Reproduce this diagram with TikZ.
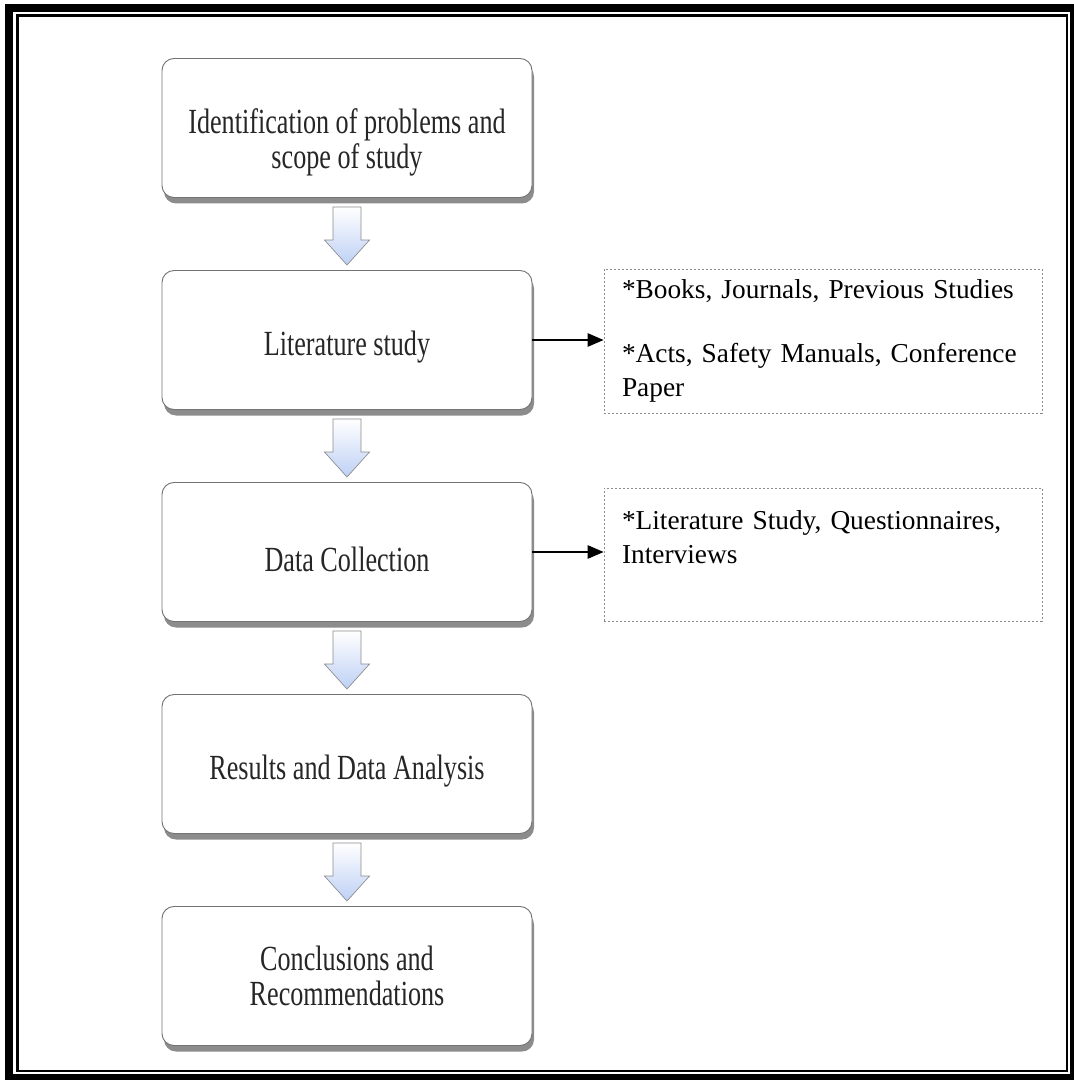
\documentclass[tikz,border=0pt]{standalone}
\usepackage{fontspec}
\setmainfont{Liberation Serif}
\newfontfamily\stepfont[FakeStretch=0.74]{Liberation Serif}
\usetikzlibrary{arrows.meta,calc,shadows}
\definecolor{arrowblue}{RGB}{190,208,245}

% Block arrow between two step boxes
\newcommand{\flowarrow}[2]{%
  \path[blockarrow]
    ($(#1.south)+(-14,9)$) -- ($(#1.south)+(14,9)$) -- ($(#2.north)+(14,-30)$)
    -- ($(#2.north)+(22.5,-30)$) -- ($(#2.north)+(0,-5)$)
    -- ($(#2.north)+(-22.5,-30)$) -- ($(#2.north)+(-14,-30)$) -- cycle;}

\begin{document}
\begin{tikzpicture}[x=0.75pt,y=-0.75pt,
  stepbox/.style={draw=black!55, line width=0.7pt, fill=white, rounded corners=9pt,
    minimum width=277.5pt, minimum height=104.25pt, align=center,
    font=\stepfont\fontsize{26.5pt}{26pt}\selectfont, text=black!85,
    execute at begin node=\rule{0pt}{29pt},
    drop shadow={shadow xshift=1.5pt, shadow yshift=-4.5pt, fill=black!45, opacity=1}},
  notebox/.style={draw=black!45, dash pattern=on 1.5pt off 1.5pt, line width=0.6pt,
    align=left, text width=301.5pt, inner xsep=13.5pt,
    font=\fontsize{20.5pt}{25.5pt}\selectfont},
  blockarrow/.style={draw=black!45, line width=0.5pt, top color=white,
    bottom color=arrowblue},
  linkarrow/.style={line width=1.3pt, -{Triangle[length=12pt,width=10pt]}}]
  \useasboundingbox (0,0) rectangle (1073,1080);
  %
  % Frame
  \draw[line width=6pt] (9,8) rectangle (1074,1078);
  \draw[line width=2pt] (17.5,15.5) rectangle (1067,1071);
  %
  % Steps
  \node[stepbox] (ident) at (347,128)
    {\rule{0pt}{40pt}Identification of problems and\\scope of study};
  \node[stepbox] (lit) at (347,340) {Literature study};
  \node[stepbox] (data) at (347,552) {Data Collection};
  \node[stepbox] (results) at (347,764) {Results and Data Analysis};
  \node[stepbox, execute at begin node={}] (concl) at (347,976) {Conclusions and\\Recommendations};
  %
  % Arrows between steps
  \foreach \a/\b in {ident/lit, lit/data, data/results, results/concl}
    \flowarrow{\a}{\b};
  %
  % Notes on the right
  \node[notebox, minimum height=108pt] (sources) at (823,341)
    {*Books, Journals, Previous Studies\\[22pt]*Acts, Safety Manuals, Conference\\Paper};
  \node[notebox, minimum height=99.75pt] (methods) at (823,554.5)
    {*Literature Study, Questionnaires,\\Interviews\\\mbox{}};
  \draw[linkarrow] (lit.east) -- (lit.east -| sources.west);
  \draw[linkarrow] (data.east) -- (data.east -| methods.west);
\end{tikzpicture}
\end{document}
